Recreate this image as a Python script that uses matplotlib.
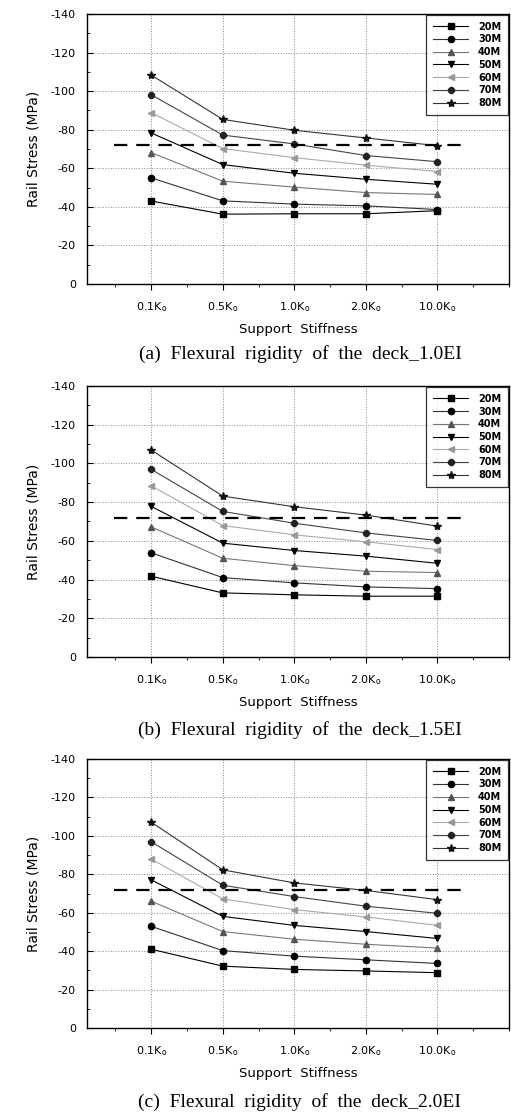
import matplotlib
matplotlib.use("Agg")
import matplotlib.pyplot as plt
from matplotlib.ticker import MultipleLocator

plt.rcParams['font.family'] = ['DejaVu Sans']
plt.rcParams['axes.unicode_minus'] = False
plt.rcParams['mathtext.fontset'] = 'dejavusans'

stiffness = ['0.1K$_\\mathregular{o}$', '0.5K$_\\mathregular{o}$', '1.0K$_\\mathregular{o}$',
             '2.0K$_\\mathregular{o}$', '10.0K$_\\mathregular{o}$']
spans = ['20M', '30M', '40M', '50M', '60M', '70M', '80M']
limit = -72

# rail stress (MPa), one list per span, for each deck rigidity
stress_10EI = {
    '20M': [-43, -36.2, -36.4, -36.4, -38],
    '30M': [-55, -43.1, -41.4, -40.5, -38.6],
    '40M': [-68.1, -53.3, -50.2, -47.4, -46.4],
    '50M': [-78.3, -61.9, -57.4, -54.3, -51.7],
    '60M': [-88.8, -70.2, -65.5, -61.6, -58.3],
    '70M': [-98.1, -77.2, -72.6, -66.6, -63.4],
    '80M': [-108.3, -85.3, -79.7, -75.7, -71.7],
}
stress_15EI = {
    '20M': [-41.7, -33.1, -32.1, -31.4, -31.4],
    '30M': [-53.8, -41.0, -38.3, -36.2, -35.3],
    '40M': [-67.2, -51.0, -47.2, -44.3, -43.6],
    '50M': [-77.8, -58.8, -55.0, -52.1, -48.4],
    '60M': [-88.4, -67.9, -63.1, -59.5, -55.5],
    '70M': [-96.9, -75.2, -69.1, -64.1, -60.2],
    '80M': [-106.9, -83.1, -77.6, -73.3, -67.6],
}
stress_20EI = {
    '20M': [-41.0, -32.2, -30.5, -29.7, -28.8],
    '30M': [-52.9, -40.3, -37.4, -35.5, -33.6],
    '40M': [-66.0, -50.2, -46.2, -43.6, -41.6],
    '50M': [-77.1, -58.1, -53.4, -50.2, -46.6],
    '60M': [-87.9, -67.2, -61.6, -57.8, -53.4],
    '70M': [-96.9, -74.3, -68.4, -63.4, -59.7],
    '80M': [-107.1, -82.3, -75.5, -71.6, -66.8],
}
captions = ['(a)  Flexural  rigidity  of  the  deck_1.0EI',
            '(b)  Flexural  rigidity  of  the  deck_1.5EI',
            '(c)  Flexural  rigidity  of  the  deck_2.0EI']

styles = {
    '20M': ('s', '#000000', '#000000'),
    '30M': ('o', '#333333', '#000000'),
    '40M': ('^', '#777777', '#555555'),
    '50M': ('v', '#000000', '#000000'),
    '60M': ('<', '#aaaaaa', '#999999'),
    '70M': ('8', '#444444', '#222222'),
    '80M': ('*', '#333333', '#111111'),
}

fig = plt.figure(figsize=(5.11, 11.15), dpi=100)

# axes boxes [left, bottom, width, height] and caption heights
boxes = [[0.170, 0.7453, 0.826, 0.2422],
         [0.170, 0.4108, 0.826, 0.2430],
         [0.170, 0.0780, 0.826, 0.2413]]
cap_y = [0.6825, 0.3453, 0.0117]

x = [1, 2, 3, 4, 5]
for data, box, cap, cy in zip([stress_10EI, stress_15EI, stress_20EI], boxes, captions, cap_y):
    ax = fig.add_axes(box)
    for s in spans:
        m, lc, mc = styles[s]
        ms = 6 if m == '*' else 4.5
        ax.plot(x, data[s], marker=m, color=lc, mfc=mc, mec=mc, ms=ms, lw=0.8, label=s)
    ax.plot([0.48, 5.38], [limit, limit], color='black', lw=1.6, linestyle=(0, (6, 4)))

    ax.set_xlim(0.1, 6.0)
    ax.set_ylim(0, -140)
    ax.set_xticks(x)
    ax.set_xticklabels(stiffness)
    ax.xaxis.set_minor_locator(MultipleLocator(0.5))
    ax.yaxis.set_major_locator(MultipleLocator(20))
    ax.yaxis.set_minor_locator(MultipleLocator(10))
    ax.tick_params(axis='x', which='major', direction='out', length=4, pad=8, labelsize=8)
    ax.tick_params(axis='x', which='minor', direction='out', length=2.5)
    ax.tick_params(axis='y', which='major', direction='in', length=4, pad=8, labelsize=8)
    ax.tick_params(axis='y', which='minor', direction='in', length=2.5)
    ax.grid(True, which='major', linestyle=':', color='#888888', lw=0.7)
    for sp in ax.spines.values():
        sp.set_linewidth(1.0)

    ax.set_ylabel('Rail Stress (MPa)', fontsize=10, labelpad=7)
    ax.set_xlabel('Support  Stiffness', fontsize=9.5, labelpad=6)

    leg = ax.legend(loc='upper right', prop={'weight': 'bold', 'size': 7},
                    frameon=True, fancybox=False, edgecolor='black', handlelength=3.6,
                    handletextpad=1.0, labelspacing=0.28, borderpad=0.7, borderaxespad=0.1)
    leg.get_frame().set_linewidth(0.9)

    fig.text(0.587, cy, cap, ha='center', va='center', fontsize=14,
             family=['Liberation Serif', 'DejaVu Serif'])

fig.savefig('out.png', dpi=100)
